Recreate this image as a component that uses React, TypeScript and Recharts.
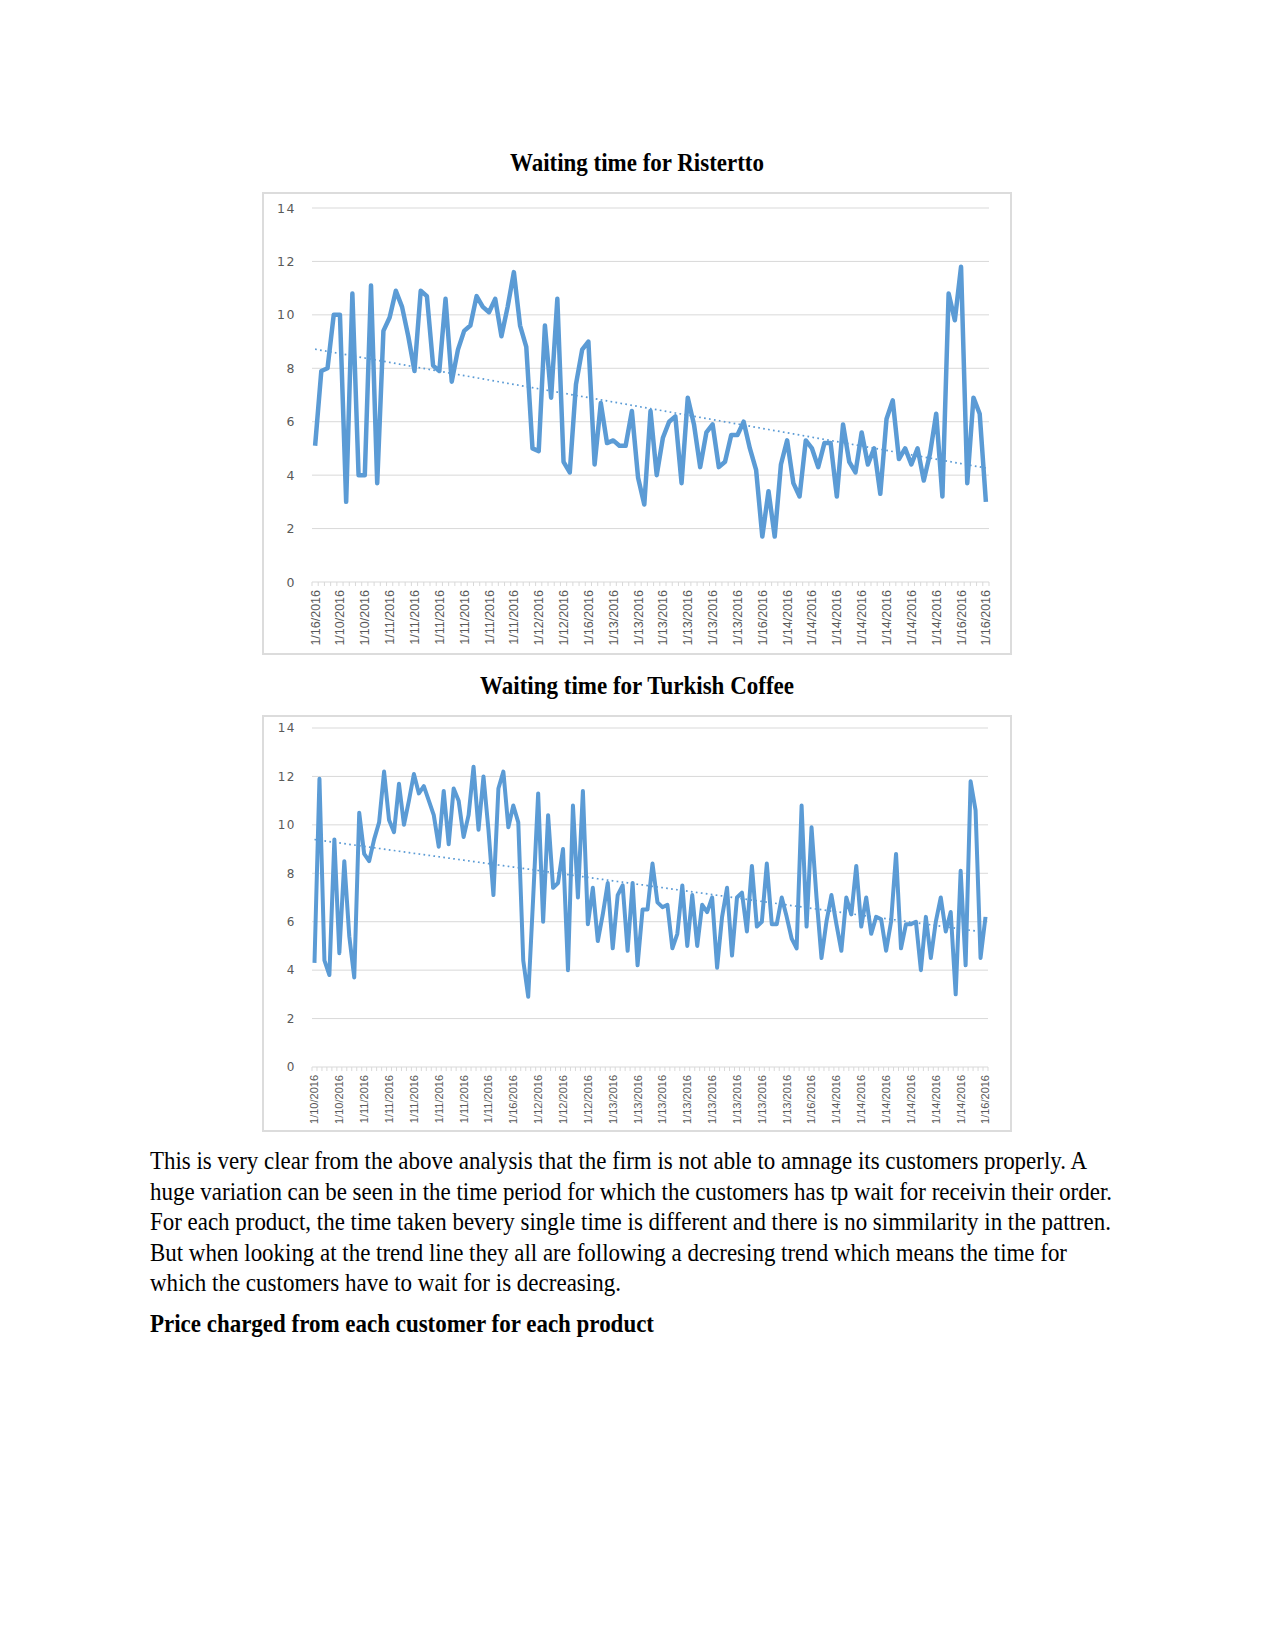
import { LineChart, Line, XAxis, YAxis, CartesianGrid } from "recharts";

// Ristretto waiting times (minutes), one value per customer
const risWait = [
  5.1, 7.9, 8.0, 10.0, 10.0, 3.0, 10.8, 4.0, 4.0, 11.1,
  3.7, 9.4, 9.9, 10.9, 10.3, 9.2, 7.9, 10.9, 10.7, 8.1,
  7.9, 10.6, 7.5, 8.7, 9.4, 9.6, 10.7, 10.3, 10.1, 10.6,
  9.2, 10.3, 11.6, 9.6, 8.8, 5.0, 4.9, 9.6, 6.9, 10.6,
  4.5, 4.1, 7.4, 8.7, 9.0, 4.4, 6.7, 5.2, 5.3, 5.1,
  5.1, 6.4, 3.9, 2.9, 6.4, 4.0, 5.4, 6.0, 6.2, 3.7,
  6.9, 5.9, 4.3, 5.6, 5.9, 4.3, 4.5, 5.5, 5.5, 6.0,
  5.0, 4.2, 1.7, 3.4, 1.7, 4.4, 5.3, 3.7, 3.2, 5.3,
  5.0, 4.3, 5.2, 5.2, 3.2, 5.9, 4.5, 4.1, 5.6, 4.4,
  5.0, 3.3, 6.1, 6.8, 4.6, 5.0, 4.4, 5.0, 3.8, 4.8,
  6.3, 3.2, 10.8, 9.8, 11.8, 3.7, 6.9, 6.3, 3.0,
];

// date labels shown on every 4th category
const risTicks = [
  "1/16/2016", "1/10/2016", "1/10/2016", "1/11/2016", "1/11/2016", "1/11/2016", "1/11/2016",
  "1/11/2016", "1/11/2016", "1/12/2016", "1/12/2016", "1/16/2016", "1/13/2016", "1/13/2016",
  "1/13/2016", "1/13/2016", "1/13/2016", "1/13/2016", "1/16/2016", "1/14/2016", "1/14/2016",
  "1/14/2016", "1/14/2016", "1/14/2016", "1/14/2016", "1/14/2016", "1/16/2016", "1/16/2016",
];

// Turkish coffee waiting times
const turWait = [
  4.3, 11.9, 4.4, 3.8, 9.4, 4.7, 8.5, 5.4, 3.7, 10.5,
  8.8, 8.5, 9.4, 10.1, 12.2, 10.2, 9.7, 11.7, 10.0, 11.0,
  12.1, 11.3, 11.6, 11.0, 10.4, 9.1, 11.4, 9.2, 11.5, 11.0,
  9.5, 10.4, 12.4, 9.8, 12.0, 9.8, 7.1, 11.5, 12.2, 9.9,
  10.8, 10.1, 4.4, 2.9, 7.0, 11.3, 6.0, 10.4, 7.4, 7.6,
  9.0, 4.0, 10.8, 7.0, 11.4, 5.9, 7.4, 5.2, 6.3, 7.6,
  4.9, 7.1, 7.5, 4.8, 7.6, 4.2, 6.5, 6.5, 8.4, 6.8,
  6.6, 6.7, 4.9, 5.5, 7.5, 5.0, 7.1, 5.0, 6.7, 6.4,
  7.0, 4.1, 6.2, 7.4, 4.6, 7.0, 7.2, 5.6, 8.3, 5.8,
  6.0, 8.4, 5.9, 5.9, 7.0, 6.2, 5.3, 4.9, 10.8, 5.8,
  9.9, 7.0, 4.5, 6.0, 7.1, 5.9, 4.8, 7.0, 6.3, 8.3,
  5.8, 7.0, 5.5, 6.2, 6.1, 4.8, 6.0, 8.8, 4.9, 5.9,
  5.9, 6.0, 4.0, 6.2, 4.5, 6.0, 7.0, 5.6, 6.4, 3.0,
  8.1, 4.2, 11.8, 10.6, 4.5, 6.2,
];

// date labels shown on every 5th category
const turTicks = [
  "1/10/2016", "1/10/2016", "1/11/2016", "1/11/2016", "1/11/2016", "1/11/2016", "1/11/2016",
  "1/11/2016", "1/16/2016", "1/12/2016", "1/12/2016", "1/12/2016", "1/13/2016", "1/13/2016",
  "1/13/2016", "1/13/2016", "1/13/2016", "1/13/2016", "1/13/2016", "1/13/2016", "1/16/2016",
  "1/14/2016", "1/14/2016", "1/14/2016", "1/14/2016", "1/14/2016", "1/14/2016", "1/16/2016",
];

const yTicks = [0, 2, 4, 6, 8, 10, 12, 14];

const paragraph = [
  "This is very clear from the above analysis that the firm is not able to amnage its customers properly. A",
  "huge variation can be seen in the time period for which the customers has tp wait for receivin their order.",
  "For each product, the time taken bevery single time is different and there is no simmilarity in the pattren.",
  "But when looking at the trend line they all are following a decresing trend which means the time for",
  "which the customers have to wait for is decreasing.",
];
const paragraphWidths = [937, 962, 961, 917, 471];

const BLUE = "#5B9BD5";
const GRID = "#D9D9D9";
const LABEL = "#595959";

// linear trendline like Excel's
function withTrend(values: number[]) {
  const n = values.length;
  let sx = 0, sy = 0, sxx = 0, sxy = 0;
  values.forEach((v, i) => {
    sx += i; sy += v; sxx += i * i; sxy += i * v;
  });
  const b = (n * sxy - sx * sy) / (n * sxx - sx * sx);
  const a = (sy - b * sx) / n;
  return values.map((v, i) => ({ i, v, trend: a + b * i }));
}

type ChartProps = {
  values: number[];
  labels: string[];
  every: number;
  width: number;
  height: number;
  top: number;
  right: number;
  xHeight: number;
  xFont: number;
  xGap: number;
  yFont: number;
  lineWidth: number;
};

function WaitChart(p: ChartProps) {
  const data = withTrend(p.values);
  const n = data.length;
  const yAxisW = 50;
  const step = (p.width - p.right - yAxisW) / n;

  const XTick = (t: any) => {
    const i = t.payload.value as number;
    const show = i % p.every === 0;
    const ly = t.y + p.xGap;
    return (
      <g>
        <line x1={t.x - step / 2} x2={t.x - step / 2} y1={t.y} y2={t.y + 4} stroke={GRID} />
        {i === n - 1 && (
          <line x1={t.x + step / 2} x2={t.x + step / 2} y1={t.y} y2={t.y + 4} stroke={GRID} />
        )}
        {show && (
          <text
            x={t.x}
            y={ly}
            transform={`rotate(-90, ${t.x}, ${ly})`}
            textAnchor="end"
            dy="0.36em"
            fontSize={p.xFont}
            fontFamily="Liberation Sans, Arial, sans-serif"
            fill={LABEL}
          >
            {p.labels[i / p.every]}
          </text>
        )}
      </g>
    );
  };

  const YTick = (t: any) => (
    <text
      x={t.x}
      y={t.y}
      dy="0.36em"
      textAnchor="end"
      fontSize={p.yFont}
      fontFamily="DejaVu Sans, sans-serif"
      letterSpacing={1.5}
      fill={LABEL}
    >
      {t.payload.value}
    </text>
  );

  return (
    <LineChart
      width={p.width}
      height={p.height}
      data={data}
      margin={{ top: p.top, right: p.right, bottom: 0, left: 0 }}
    >
      <CartesianGrid vertical={false} stroke={GRID} />
      <XAxis
        dataKey="i"
        type="category"
        scale="band"
        interval={0}
        height={p.xHeight}
        tickSize={0}
        tickMargin={0}
        tickLine={false}
        axisLine={false}
        tick={XTick}
      />
      <YAxis
        domain={[0, 14]}
        ticks={yTicks}
        width={yAxisW}
        tickSize={0}
        tickMargin={16}
        tickLine={false}
        axisLine={false}
        tick={YTick}
      />
      <Line
        dataKey="v"
        stroke={BLUE}
        strokeWidth={p.lineWidth}
        strokeLinejoin="round"
        dot={false}
        isAnimationActive={false}
      />
      <Line
        dataKey="trend"
        stroke={BLUE}
        strokeWidth={1.7}
        strokeDasharray="1.7 3.3"
        dot={false}
        isAnimationActive={false}
      />
    </LineChart>
  );
}

const serif = "Liberation Serif, Times New Roman, serif";

export default function App() {
  return (
    <div style={{ position: "absolute", left: 0, top: 0, width: 1275, height: 1651, background: "#fff" }}>
      <svg width={1275} height={1651} style={{ position: "absolute", left: 0, top: 0 }}>
        <text x={510} y={171} fontFamily={serif} fontWeight="bold" fontSize={25} textLength={254} lengthAdjust="spacingAndGlyphs">
          Waiting time for Ristertto
        </text>
        <text x={480} y={694} fontFamily={serif} fontWeight="bold" fontSize={25} textLength={314} lengthAdjust="spacingAndGlyphs">
          Waiting time for Turkish Coffee
        </text>
        {paragraph.map((line, k) => (
          <text
            key={k}
            x={150}
            y={1169 + k * 30.5}
            fontFamily={serif}
            fontSize={25}
            textLength={paragraphWidths[k]}
            lengthAdjust="spacingAndGlyphs"
          >
            {line}
          </text>
        ))}
        <text x={150} y={1332} fontFamily={serif} fontWeight="bold" fontSize={25} textLength={504} lengthAdjust="spacingAndGlyphs">
          Price charged from each customer for each product
        </text>
      </svg>

      <div style={{ position: "absolute", left: 262, top: 192, width: 750, height: 463 }}>
        <WaitChart
          values={risWait}
          labels={risTicks}
          every={4}
          width={750}
          height={463}
          top={16}
          right={23}
          xHeight={73}
          xFont={12.5}
          xGap={8}
          yFont={12.5}
          lineWidth={4.5}
        />
        <div style={{ position: "absolute", inset: 0, border: "2px solid #DCDCDC", pointerEvents: "none" }} />
      </div>

      <div style={{ position: "absolute", left: 262, top: 715, width: 750, height: 417 }}>
        <WaitChart
          values={turWait}
          labels={turTicks}
          every={5}
          width={750}
          height={417}
          top={13}
          right={24}
          xHeight={65}
          xFont={11}
          xGap={8}
          yFont={12}
          lineWidth={4}
        />
        <div style={{ position: "absolute", inset: 0, border: "2px solid #DCDCDC", pointerEvents: "none" }} />
      </div>
    </div>
  );
}
